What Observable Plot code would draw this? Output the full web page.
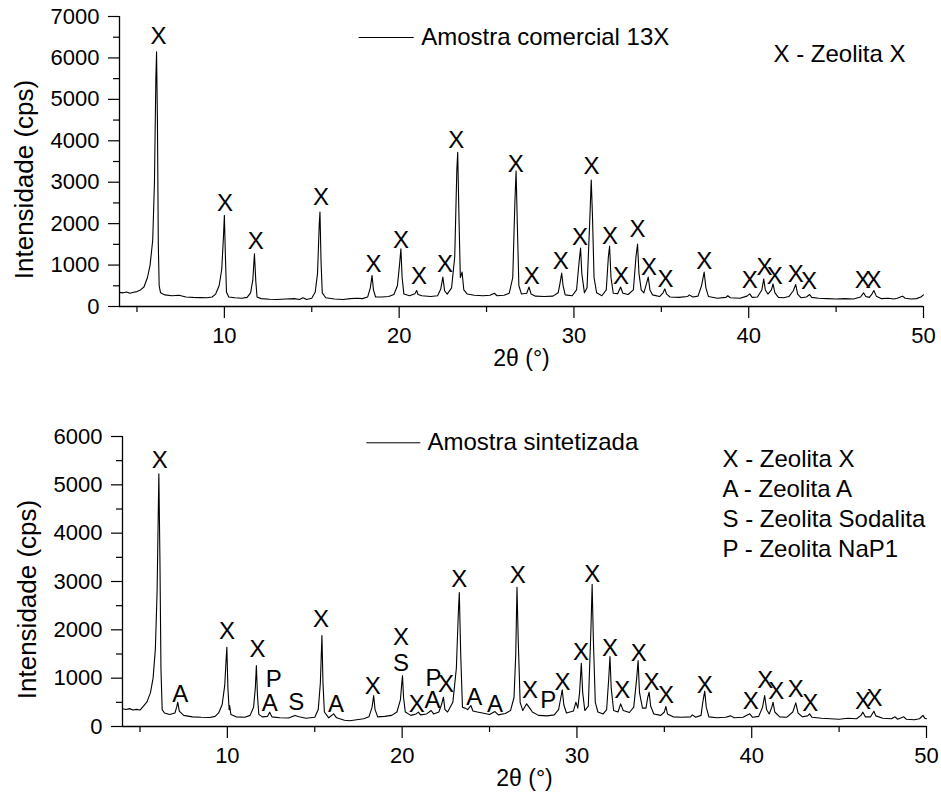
<!DOCTYPE html>
<html><head><meta charset="utf-8">
<script src="https://cdn.jsdelivr.net/npm/d3@7"></script>
<script src="https://cdn.jsdelivr.net/npm/@observablehq/plot@0.6"></script>
<style>body{margin:0;background:#fff;} #c{width:941px;} svg{display:block;}</style>
</head><body><div id="c"></div><script>
// 2θ (°), intensidade (cps)
const comercial = [[4.0,340],[4.2,330],[4.4,350],[4.6,320],[4.8,345],[5.0,360],[5.2,400],[5.4,470],[5.6,700],[5.75,1000],[5.9,1600],[6.0,3000],[6.08,5500],[6.12,6150],[6.17,4500],[6.22,1500],[6.27,500],[6.35,330],[6.6,280],[7.0,260],[7.4,270],[7.8,230],[8.2,220],[8.6,215],[9.0,210],[9.3,230],[9.5,300],[9.7,500],[9.85,900],[9.95,1700],[10.0,2200],[10.06,1200],[10.12,350],[10.25,230],[10.6,210],[11.0,200],[11.3,220],[11.5,330],[11.63,650],[11.72,1270],[11.8,600],[11.87,230],[12.1,190],[12.6,175],[13.0,170],[13.5,180],[14.0,190],[14.3,170],[14.5,210],[14.7,170],[15.0,200],[15.2,350],[15.33,800],[15.43,2000],[15.47,2280],[15.53,1100],[15.6,330],[15.8,210],[16.3,180],[16.8,170],[17.2,190],[17.6,200],[17.9,190],[18.2,230],[18.35,450],[18.45,750],[18.53,400],[18.65,230],[19.0,230],[19.4,240],[19.7,290],[19.9,500],[20.02,1000],[20.1,1390],[20.17,700],[20.27,300],[20.6,260],[20.9,310],[21.0,385],[21.08,290],[21.3,260],[21.8,240],[22.2,260],[22.38,420],[22.5,710],[22.6,380],[22.75,300],[23.0,450],[23.18,1200],[23.3,3300],[23.35,3725],[23.42,2200],[23.5,700],[23.6,830],[23.7,400],[23.9,300],[24.3,270],[24.8,260],[25.2,270],[25.45,320],[25.6,260],[26.0,270],[26.3,320],[26.5,700],[26.62,2500],[26.69,3270],[26.76,2000],[26.85,500],[27.0,300],[27.3,320],[27.43,470],[27.55,300],[27.8,250],[28.3,240],[28.8,250],[29.1,330],[29.22,600],[29.3,805],[29.38,500],[29.5,280],[29.9,260],[30.15,400],[30.3,1100],[30.38,1410],[30.45,800],[30.6,330],[30.75,450],[30.9,2000],[30.99,3055],[31.06,2200],[31.15,700],[31.3,330],[31.6,260],[31.85,400],[31.97,1200],[32.04,1460],[32.12,700],[32.25,320],[32.5,310],[32.67,470],[32.8,320],[33.1,290],[33.4,400],[33.55,1200],[33.64,1510],[33.72,800],[33.85,400],[34.0,330],[34.15,550],[34.25,710],[34.35,400],[34.5,280],[34.9,240],[35.1,330],[35.2,425],[35.3,300],[35.5,230],[36.0,220],[36.5,240],[36.6,280],[36.8,230],[37.1,250],[37.3,500],[37.45,830],[37.55,450],[37.7,240],[38.2,200],[38.7,220],[38.8,260],[38.95,210],[39.5,200],[39.9,250],[40.06,305],[40.2,220],[40.5,230],[40.75,400],[40.86,665],[40.95,400],[41.1,300],[41.3,400],[41.39,545],[41.5,330],[41.7,220],[42.0,210],[42.3,240],[42.55,380],[42.69,530],[42.8,300],[43.0,210],[43.3,230],[43.49,290],[43.6,220],[44.0,200],[44.5,190],[45.0,180],[45.5,190],[46.0,180],[46.4,230],[46.57,330],[46.7,240],[46.9,220],[47.05,300],[47.16,385],[47.3,250],[47.6,190],[48.0,200],[48.3,180],[48.5,200],[48.8,250],[48.95,200],[49.3,180],[49.6,190],[49.85,230],[50.0,280]];

const sintetizada = [[4.0,366],[4.2,350],[4.4,370],[4.6,340],[4.8,355],[5.0,340],[5.2,420],[5.4,510],[5.6,700],[5.75,1000],[5.88,1600],[5.98,2800],[6.05,4500],[6.08,5230],[6.14,3500],[6.2,1200],[6.27,350],[6.4,280],[6.7,250],[7.0,280],[7.1,400],[7.16,503],[7.25,320],[7.5,230],[8.0,200],[8.5,190],[9.0,185],[9.3,210],[9.5,280],[9.7,450],[9.85,850],[9.93,1400],[9.97,1640],[10.03,800],[10.1,350],[10.13,434],[10.2,250],[10.5,200],[11.0,190],[11.3,230],[11.5,400],[11.6,800],[11.66,1262],[11.72,650],[11.8,250],[12.0,200],[12.3,210],[12.42,297],[12.55,200],[13.0,180],[13.5,175],[13.87,228],[14.1,200],[14.5,170],[15.0,190],[15.2,350],[15.32,900],[15.41,1883],[15.47,900],[15.55,300],[15.8,180],[16.08,262],[16.25,180],[16.7,130],[17.0,120],[17.4,140],[17.8,160],[18.1,200],[18.28,400],[18.37,641],[18.45,350],[18.6,200],[19.0,210],[19.4,230],[19.7,300],[19.9,550],[19.98,900],[20.02,1055],[20.08,600],[20.18,300],[20.5,230],[20.8,260],[20.93,297],[21.05,240],[21.4,260],[21.66,331],[21.8,260],[22.1,300],[22.25,450],[22.36,607],[22.45,350],[22.6,300],[22.9,500],[23.1,1200],[23.22,2400],[23.27,2770],[23.35,1500],[23.45,400],[23.6,380],[23.75,350],[23.93,434],[24.05,320],[24.3,300],[24.6,280],[25.0,250],[25.31,310],[25.5,240],[25.9,270],[26.2,330],[26.4,600],[26.5,1500],[26.57,2880],[26.64,1800],[26.75,500],[26.9,330],[27.12,469],[27.3,380],[27.45,300],[27.8,230],[28.3,220],[28.7,240],[28.95,350],[29.08,600],[29.16,760],[29.25,450],[29.4,280],[29.8,320],[29.94,503],[30.05,380],[30.15,700],[30.25,1310],[30.33,700],[30.45,330],[30.65,420],[30.8,2000],[30.87,2940],[30.94,1800],[31.05,500],[31.2,300],[31.5,260],[31.7,350],[31.82,1000],[31.89,1448],[31.96,800],[32.1,330],[32.35,300],[32.5,469],[32.65,330],[33.0,290],[33.25,400],[33.42,1000],[33.5,1366],[33.58,700],[33.75,380],[33.95,380],[34.05,600],[34.13,710],[34.22,420],[34.4,260],[34.8,230],[35.0,300],[35.09,414],[35.18,260],[35.5,200],[36.0,190],[36.5,200],[36.6,240],[36.8,190],[37.1,230],[37.2,500],[37.31,731],[37.4,400],[37.55,200],[38.0,180],[38.5,190],[38.8,220],[39.0,180],[39.5,190],[39.89,262],[40.05,190],[40.4,210],[40.62,400],[40.74,641],[40.85,350],[41.0,260],[41.15,400],[41.22,503],[41.32,300],[41.6,200],[42.0,190],[42.35,300],[42.52,490],[42.65,280],[42.9,200],[43.2,220],[43.31,262],[43.45,190],[44.0,170],[44.5,160],[45.0,150],[45.5,170],[46.0,160],[46.25,230],[46.36,297],[46.5,200],[46.8,200],[46.99,317],[47.1,220],[47.5,170],[48.0,160],[48.2,200],[48.35,150],[48.7,200],[48.85,150],[49.3,140],[49.6,160],[49.8,230],[49.9,170],[50.0,160]];

// peak labels: [2θ, intensity, phase]
const labelsTop = [[6.23,6517,"X"],[10.04,2500,"X"],[11.79,1576,"X"],[15.53,2624,"X"],[18.53,1030,"X"],[20.1,1593,"X"],[21.14,724,"X"],[22.63,1030,"X"],[23.26,4023,"X"],[26.67,3444,"X"],[27.58,724,"X"],[29.24,1086,"X"],[30.34,1673,"X"],[31.01,3379,"X"],[32.06,1690,"X"],[32.69,724,"X"],[33.64,1875,"X"],[34.29,950,"X"],[35.24,668,"X"],[37.45,1086,"X"],[40.06,644,"X"],[40.91,950,"X"],[41.49,724,"X"],[42.69,789,"X"],[43.45,603,"X"],[46.53,644,"X"],[47.14,644,"X"]];
const labelsBottom = [[6.13,5517,"X"],[7.31,676,"A"],[9.98,1966,"X"],[11.73,1587,"X"],[12.65,986,"P"],[12.42,483,"A"],[13.94,503,"S"],[15.35,2228,"X"],[16.21,455,"A"],[18.32,828,"X"],[19.94,1835,"X"],[19.94,1297,"S"],[20.84,469,"X"],[21.73,552,"A"],[21.79,1007,"P"],[22.51,883,"X"],[23.27,3041,"X"],[24.13,607,"A"],[25.31,455,"A"],[26.61,3124,"X"],[27.31,745,"X"],[28.36,538,"P"],[29.18,917,"X"],[30.23,1538,"X"],[30.87,3159,"X"],[31.89,1628,"X"],[32.59,745,"X"],[33.54,1504,"X"],[34.27,917,"X"],[35.09,641,"X"],[37.31,848,"X"],[39.94,524,"X"],[40.78,952,"X"],[41.41,724,"X"],[42.52,779,"X"],[43.35,490,"X"],[46.36,524,"X"],[47.03,593,"X"]];

const xTicks = [10,20,30,40,50];
const xMinor = [5,15,25,35,45];
const yTicksTop = [0,1000,2000,3000,4000,5000,6000,7000];
const yMinorTop = [500,1500,2500,3500,4500,5500,6500];
const yTicksBottom = [0,1000,2000,3000,4000,5000,6000];
const yMinorBottom = [500,1500,2500,3500,4500,5500];
const seriesTop = "Amostra comercial 13X";
const seriesBottom = "Amostra sintetizada";
const keyTop = ["X - Zeolita X"];
const keyBottom = ["X - Zeolita X","A - Zeolita A","S - Zeolita Sodalita","P - Zeolita NaP1"];
const xTitle = "2θ (°)";
const yTitle = "Intensidade (cps)";

const FONT = "'Liberation Sans', Arial, sans-serif";
const fmt = d => String(d);

function panel(o) {
  return Plot.plot({
    width: 941, height: o.height,
    marginTop: o.mt, marginBottom: o.mb, marginLeft: o.ml, marginRight: o.mr,
    style: {fontFamily: FONT, background: "#fff", color: "#000"},
    x: {domain: [4, 50], axis: null},
    y: {domain: o.ydomain, axis: null},
    marks: [
      Plot.axisX(xTicks, {tickSize: 12, tickPadding: 9, fontSize: 22, strokeWidth: 1.2, tickFormat: fmt, label: null}),
      Plot.axisX(xMinor, {tickSize: 6, tickFormat: () => "", strokeWidth: 1.2, label: null}),
      Plot.axisY(o.yticks, {tickSize: 11, tickPadding: 9, fontSize: 22, strokeWidth: 1.2, tickFormat: fmt, label: null}),
      Plot.axisY(o.yminor, {tickSize: 6, tickFormat: () => "", strokeWidth: 1.2, label: null}),
      Plot.ruleX([4], {y1: o.ydomain[0], y2: o.ydomain[1], strokeWidth: 1.3}),
      Plot.ruleY([0], {x1: 4, x2: 50, strokeWidth: 1.3}),
      Plot.line(o.data, {x: d => d[0], y: d => d[1], stroke: "#000", strokeWidth: 1.1}),
      Plot.text(o.labels, {x: d => d[0], y: d => d[1], text: d => d[2], fontSize: 24, lineAnchor: "middle"}),
      Plot.ruleY([o.leg.y], {x1: o.leg.x1, x2: o.leg.x2, stroke: "#000", strokeWidth: 1}),
      Plot.text([o.series], {x: o.leg.tx, y: o.leg.y, textAnchor: "start", fontSize: 24, lineAnchor: "middle"}),
      Plot.text([o.key.join("\n")], {frameAnchor: "top-left", dx: o.kdx, dy: o.kdy, textAnchor: "start", lineAnchor: "middle", lineHeight: 1.25, fontSize: 24}),
      Plot.text([xTitle], {frameAnchor: "bottom", dy: 52, fontSize: 23, textAnchor: "middle", lineAnchor: "middle"}),
      Plot.text([yTitle], {frameAnchor: "left", dx: o.ytdx, dy: 18, rotate: -90, fontSize: 26, textAnchor: "middle", lineAnchor: "middle"})
    ]
  });
}

const plotTop = panel({height: 393, mt: 16, mb: 87, ml: 119, mr: 18, ydomain: [0, 7000], yticks: yTicksTop, yminor: yMinorTop,
  data: comercial, labels: labelsTop, series: seriesTop, leg: {x1: 17.71, x2: 20.86, y: 6493, tx: 21.26}, key: keyTop, kdx: 654, kdy: 36, ytdx: -95});
const plotBottom = panel({height: 400, mt: 43, mb: 67, ml: 122, mr: 15, ydomain: [0, 6000], yticks: yTicksBottom, yminor: yMinorBottom,
  data: sintetizada, labels: labelsBottom, series: seriesBottom, leg: {x1: 17.98, x2: 21.07, y: 5870, tx: 21.45}, key: keyBottom, kdx: 600, kdy: 66, ytdx: -95});

document.getElementById("c").append(plotTop, plotBottom);
</script></body></html>
